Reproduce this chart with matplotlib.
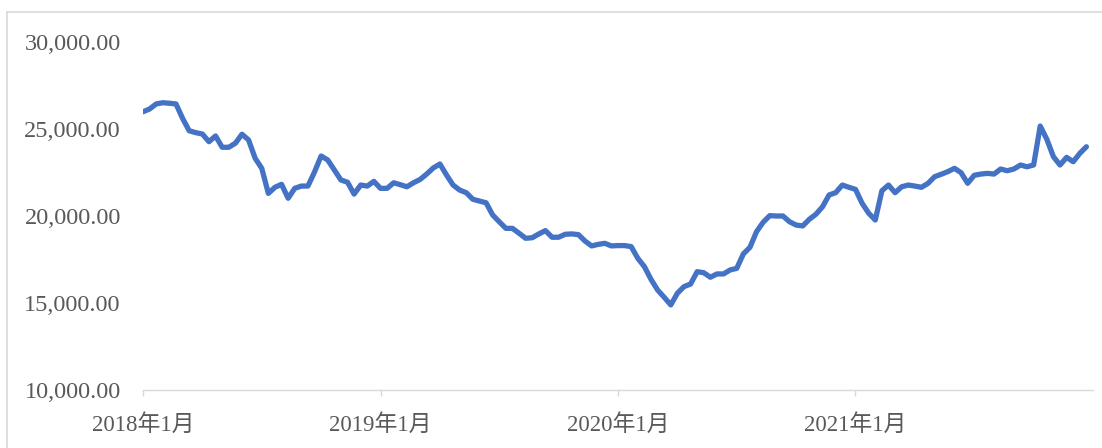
"""Dekadal price line, 2018-2021, recreated in matplotlib."""

import matplotlib
matplotlib.use("Agg")
import matplotlib.pyplot as plt
from matplotlib.lines import Line2D
from matplotlib.ticker import FuncFormatter

plt.rcParams["font.family"] = ["Liberation Serif", "Noto Sans CJK SC", "DejaVu Sans"]

# three points per month (dekads), Jan 2018 .. Dec 2021
values = [
    25990, 26150, 26440, 26510, 26480, 26440, 25610, 24900, 24790, 24710,
    24270, 24600, 23950, 23950, 24180, 24700, 24370, 23320, 22740, 21300,
    21650, 21820, 21020, 21590, 21720, 21720, 22530, 23450, 23220, 22640,
    22070, 21940, 21260, 21780, 21720, 21990, 21590, 21590, 21910, 21800,
    21680, 21910, 22100, 22410, 22760, 22990, 22360, 21780, 21490, 21340,
    20960, 20860, 20760, 20060, 19670, 19290, 19290, 19010, 18720, 18750,
    18970, 19160, 18780, 18780, 18950, 18970, 18930, 18560, 18280, 18370,
    18430, 18280, 18300, 18300, 18240, 17570, 17090, 16360, 15750, 15330,
    14890, 15560, 15940, 16090, 16800, 16740, 16480, 16670, 16670, 16900,
    16990, 17820, 18200, 19100, 19640, 20020, 20000, 20000, 19670, 19480,
    19430, 19810, 20100, 20530, 21210, 21340, 21780, 21650, 21530, 20730,
    20160, 19770, 21450, 21780, 21340, 21680, 21780, 21720, 21650, 21880,
    22260, 22400, 22550, 22740, 22490, 21880, 22340, 22410, 22450, 22410,
    22700, 22600, 22700, 22930, 22830, 22930, 25170, 24410, 23410, 22930,
    23370, 23120, 23600, 23980,
]
tick_pos = [0, 36, 72, 108]
tick_labels = ["2018年1月", "2019年1月", "2020年1月", "2021年1月"]
y_ticks = [10000, 15000, 20000, 25000, 30000]

fig = plt.figure(figsize=(11.02, 4.48), dpi=100)
ax = fig.add_axes([143 / 1102, 1 - 390 / 448, 950 / 1102, 348 / 448])

ax.plot(range(len(values)), values, color="#4472C4", linewidth=3.8,
        solid_joinstyle="round", solid_capstyle="round")

ax.set_xlim(0, 144)
ax.set_ylim(10000, 30000)
ax.set_yticks(y_ticks)
ax.yaxis.set_major_formatter(FuncFormatter(lambda v, _: f"{v:,.2f}"))
ax.set_xticks(tick_pos)
ax.set_xticklabels(tick_labels)

for side in ["top", "right", "left"]:
    ax.spines[side].set_visible(False)
ax.spines["bottom"].set_color("#D9D9D9")
ax.spines["bottom"].set_linewidth(1.0)
ax.tick_params(axis="y", length=0, pad=16, labelsize=17.5, labelcolor="#595959")
ax.tick_params(axis="x", length=4, width=1.0, color="#D9D9D9", pad=13,
               labelsize=16.5, labelcolor="#595959")

# light frame around the chart area
fig.add_artist(Line2D([7 / 1102, 1], [1 - 12 / 448, 1 - 12 / 448],
                      color="#D9D9D9", linewidth=1.2, transform=fig.transFigure))
fig.add_artist(Line2D([7 / 1102, 7 / 1102], [0, 1 - 12 / 448],
                      color="#D9D9D9", linewidth=1.2, transform=fig.transFigure))

fig.savefig("out.png", dpi=100)
